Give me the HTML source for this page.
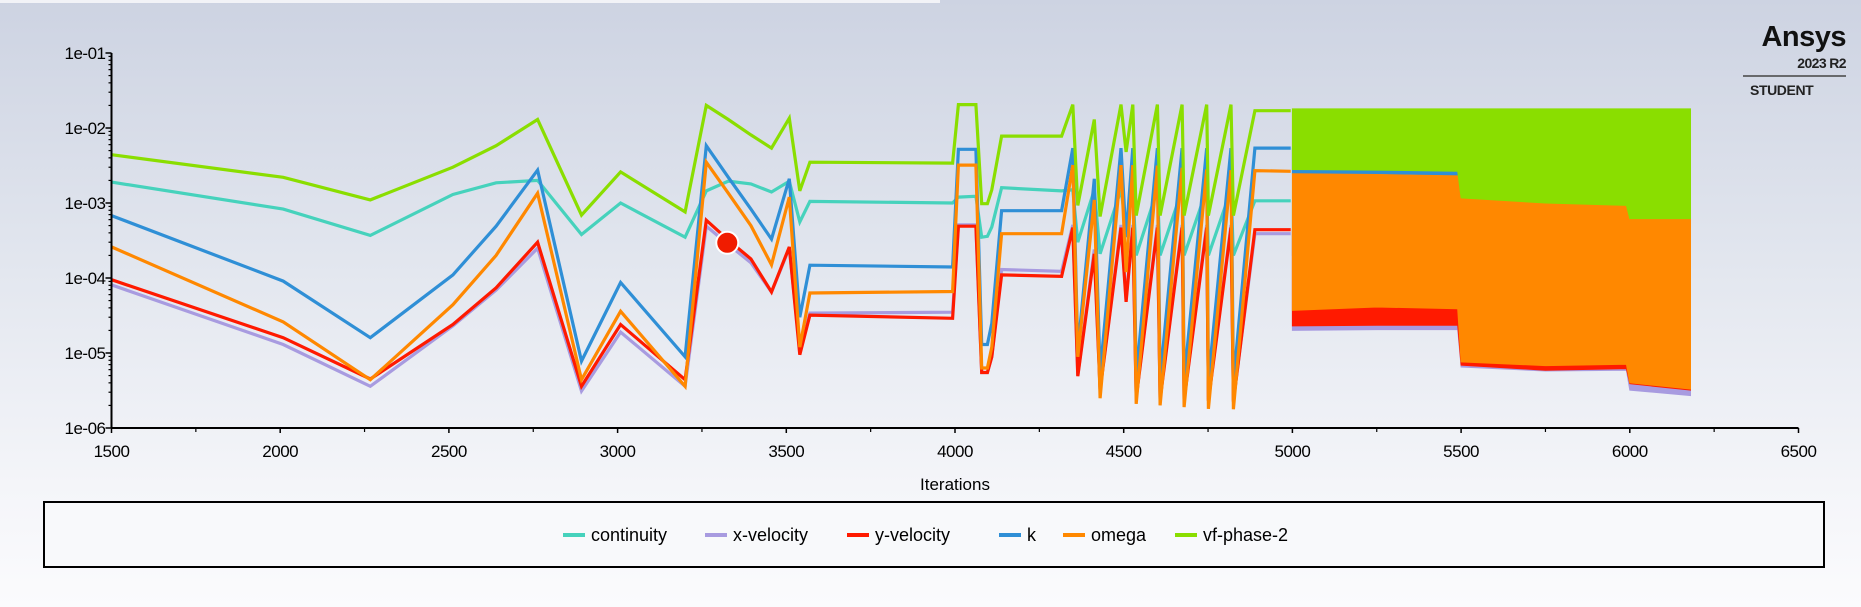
<!DOCTYPE html>
<html>
<head>
<meta charset="utf-8">
<style>
html,body{margin:0;padding:0;}
body{width:1861px;height:607px;overflow:hidden;background:linear-gradient(#cdd3e2 0%,#e3e7ef 45%,#f4f5f9 80%,#fbfbfd 100%);font-family:"Liberation Sans",sans-serif;}
svg{position:absolute;left:0;top:0;}
</style>
</head>
<body>
<svg id="chart" width="1861" height="607" viewBox="0 0 1861 607">
  <rect x="0" y="0" width="940" height="3" fill="#f2f3f7"/>
  <g id="plot"></g>
  <g id="axes"></g>
  <text x="955" y="490" font-size="17" text-anchor="middle" fill="#000">Iterations</text>
  <g>
    <rect x="44" y="502" width="1780" height="65" fill="#f8f9fb" stroke="#000" stroke-width="2"/>
    <g id="legend-items"></g>
  </g>
  <g>
    <text x="1846" y="46" font-size="29" font-weight="bold" text-anchor="end" fill="#111" letter-spacing="-0.5">Ansys</text>
    <text x="1846" y="68" font-size="14" font-weight="bold" text-anchor="end" fill="#222" letter-spacing="-0.6">2023 R2</text>
    <line x1="1743" y1="76" x2="1846" y2="76" stroke="#444" stroke-width="1.5"/>
    <text x="1750" y="95" font-size="14" font-weight="bold" fill="#222" letter-spacing="-0.4">STUDENT</text>
  </g>
</svg>
<script>
const iterations = [1500,2009,2267,2512,2640,2763,2893,3009,3200,3263,3328,3395,3456,3509,3540,3570,3993,4010,4062,4079,4096,4109,4138,4316,
  4349,4364,4413,4430,4492,4507,4527,4537,4600,4608,4673,4679,4746,4751,4818,4825,4889,4995];
const continuity = [1.9e-3,8.3e-4,3.7e-4,1.3e-3,1.86e-3,2.0e-3,3.8e-4,1.0e-3,3.5e-4,1.45e-3,1.95e-3,1.8e-3,1.4e-3,1.95e-3,5.6e-4,1.05e-3,1.0e-3,1.2e-3,1.23e-3,3.5e-4,3.6e-4,4.8e-4,1.6e-3,1.45e-3,
  1.5e-3,3.0e-4,1.5e-3,2.1e-4,1.5e-3,4.8e-4,1.5e-3,2.0e-4,1.5e-3,2.0e-4,1.5e-3,2.0e-4,1.5e-3,2.0e-4,1.5e-3,2.0e-4,1.07e-3,1.07e-3];
const xVelocity = [8.1e-5,1.3e-5,3.6e-6,2.3e-5,6.9e-5,2.5e-4,3.1e-6,1.9e-5,3.6e-6,4.9e-4,2.8e-4,1.6e-4,6.5e-5,2.5e-4,1.1e-5,3.4e-5,3.5e-5,5.1e-4,5.1e-4,5.5e-6,5.5e-6,8.9e-6,1.3e-4,1.23e-4,
  5.1e-4,5.0e-6,2.4e-4,3.3e-6,5.1e-4,5.2e-5,5.1e-4,2.6e-6,5.1e-4,2.5e-6,5.1e-4,2.45e-6,5.1e-4,2.4e-6,5.1e-4,2.35e-6,3.9e-4,3.9e-4];
const yVelocity = [9.5e-5,1.6e-5,4.5e-6,2.4e-5,7.4e-5,3.0e-4,3.6e-6,2.4e-5,4.4e-6,5.9e-4,3.2e-4,1.8e-4,6.5e-5,2.6e-4,9.5e-6,3.2e-5,2.9e-5,4.9e-4,4.9e-4,5.5e-6,5.5e-6,8.9e-6,1.1e-4,1.05e-4,
  4.7e-4,4.9e-6,2.1e-4,3.2e-6,4.7e-4,4.8e-5,4.7e-4,2.5e-6,4.7e-4,2.4e-6,4.7e-4,2.35e-6,4.7e-4,2.3e-6,4.7e-4,2.25e-6,4.4e-4,4.4e-4];
const kRes = [6.8e-4,9.1e-5,1.6e-5,1.1e-4,4.9e-4,2.75e-3,7.8e-6,8.7e-5,8.9e-6,5.8e-3,2.2e-3,8.3e-4,3.3e-4,2.1e-3,3.0e-5,1.48e-4,1.4e-4,5.2e-3,5.2e-3,1.3e-5,1.3e-5,2.5e-5,7.9e-4,7.9e-4,
  5.4e-3,1.1e-5,2.1e-3,5.4e-6,5.4e-3,3.5e-4,5.4e-3,4.8e-6,5.4e-3,4.5e-6,5.4e-3,4.3e-6,5.4e-3,4.2e-6,5.4e-3,4.0e-6,5.4e-3,5.4e-3];
const omega = [2.6e-4,2.6e-5,4.4e-6,4.4e-5,2.0e-4,1.35e-3,4.4e-6,3.6e-5,3.6e-6,3.5e-3,1.35e-3,5.0e-4,1.5e-4,1.2e-3,1.2e-5,6.3e-5,6.6e-5,3.2e-3,3.2e-3,6.3e-6,6.3e-6,1.2e-5,3.9e-4,3.9e-4,
  3.2e-3,8.9e-6,1.1e-3,2.5e-6,3.2e-3,1.2e-4,3.2e-3,2.1e-6,3.15e-3,2.0e-6,2.95e-3,1.9e-6,2.8e-3,1.8e-6,2.75e-3,1.78e-6,2.7e-3,2.65e-3];
const vfPhase2 = [4.4e-3,2.2e-3,1.1e-3,3.0e-3,5.8e-3,1.3e-2,6.9e-4,2.6e-3,7.6e-4,2.0e-2,1.3e-2,8.1e-3,5.4e-3,1.35e-2,1.45e-3,3.5e-3,3.4e-3,2.05e-2,2.05e-2,9.8e-4,9.8e-4,1.5e-3,7.8e-3,7.8e-3,
  2.05e-2,9.3e-4,1.3e-2,6.6e-4,2.05e-2,4.8e-3,2.05e-2,6.8e-4,2.05e-2,6.8e-4,2.05e-2,6.8e-4,2.05e-2,6.8e-4,2.05e-2,6.8e-4,1.7e-2,1.7e-2];

// dense oscillation region (5000-6180), drawn as max/min envelope bands
const bandIters = [5000,5250,5490,5500,5750,5990,6000,6180];
const continuityHigh = [1.07e-3,1.07e-3,1.07e-3,1.07e-3,1.07e-3,1.07e-3,1.07e-3,1.07e-3];
const continuityLow = [2.0e-4,2.0e-4,2.0e-4,2.0e-4,2.0e-4,2.0e-4,2.0e-4,2.0e-4];
const xVelocityHigh = [3.9e-4,3.9e-4,3.9e-4,3.9e-4,3.9e-4,3.9e-4,3.9e-4,3.9e-4];
const xVelocityLow = [2.0e-5,2.05e-5,2.05e-5,6.5e-6,5.75e-6,5.9e-6,3.2e-6,2.7e-6];
const yVelocityHigh = [4.4e-4,4.4e-4,4.4e-4,4.4e-4,4.4e-4,4.4e-4,4.4e-4,4.4e-4];
const yVelocityLow = [2.3e-5,2.35e-5,2.35e-5,6.9e-6,5.9e-6,6.2e-6,3.9e-6,3.2e-6];
const kHigh = [5.4e-3,5.4e-3,5.4e-3,5.4e-3,5.4e-3,5.4e-3,5.4e-3,5.4e-3];
const kLow = [2.5e-3,2.45e-3,2.35e-3,1.2e-3,1.02e-3,9.5e-4,6.4e-4,6.4e-4];
const omegaHigh = [2.45e-3,2.4e-3,2.3e-3,1.15e-3,1.0e-3,9.3e-4,6.2e-4,6.2e-4];
const omegaLow = [3.7e-5,4.1e-5,3.9e-5,7.6e-6,6.8e-6,7.1e-6,4.0e-6,3.3e-6];
const vfHigh = [1.8e-2,1.8e-2,1.8e-2,1.8e-2,1.8e-2,1.8e-2,1.8e-2,1.8e-2];
const vfLow = [2.8e-3,2.75e-3,2.65e-3,1.17e-3,1.0e-3,9.3e-4,6.2e-4,6.2e-4];

const xTicks = [1500,2000,2500,3000,3500,4000,4500,5000,5500,6000,6500];
const xTickLabels = ["1500","2000","2500","3000","3500","4000","4500","5000","5500","6000","6500"];
const yTicks = [-1,-2,-3,-4,-5,-6];
const yTickLabels = ["1e-01","1e-02","1e-03","1e-04","1e-05","1e-06"];
const markerPoint = [3325, 2.95e-4];

const NS = "http://www.w3.org/2000/svg";
const X0 = 111.5, PX_PER_IT = 0.3374, Y0 = 53, PX_PER_DEC = 75;
function xScale(i){ return X0 + (i - 1500) * PX_PER_IT; }
function yScale(v){ return Y0 + (-1 - Math.log10(v)) * PX_PER_DEC; }
function mk(tag, attrs, parent){ const e = document.createElementNS(NS, tag); for (const k in attrs) e.setAttribute(k, attrs[k]); parent.appendChild(e); return e; }

const plot = document.getElementById('plot');
const axes = document.getElementById('axes');
const series = [
  {name:'continuity', color:'#46d2bc', vals:continuity, hi:continuityHigh, lo:continuityLow},
  {name:'x-velocity', color:'#a89be0', vals:xVelocity, hi:xVelocityHigh, lo:xVelocityLow},
  {name:'y-velocity', color:'#ff1a00', vals:yVelocity, hi:yVelocityHigh, lo:yVelocityLow},
  {name:'k', color:'#2f8fd6', vals:kRes, hi:kHigh, lo:kLow},
  {name:'omega', color:'#ff8800', vals:omega, hi:omegaHigh, lo:omegaLow},
  {name:'vf-phase-2', color:'#8ade00', vals:vfPhase2, hi:vfHigh, lo:vfLow}
];

series.forEach(s => {
  const pts = iterations.map((it, i) => xScale(it).toFixed(1) + ',' + yScale(s.vals[i]).toFixed(1)).join(' ');
  const line = mk('polyline', {points: pts, fill: 'none', stroke: s.color, 'stroke-width': 3.2, 'stroke-linejoin': 'miter', 'stroke-miterlimit': 4}, plot);
  
  
  const top = bandIters.map((it, i) => xScale(it).toFixed(1) + ',' + yScale(s.hi[i]).toFixed(1));
  const bot = bandIters.map((it, i) => xScale(it).toFixed(1) + ',' + yScale(s.lo[i]).toFixed(1)).reverse();
  const band = mk('polygon', {points: top.concat(bot).join(' '), fill: s.color, stroke: s.color, 'stroke-width': 1}, plot);
  
  
});

const mkr = mk('circle', {cx: xScale(markerPoint[0]), cy: yScale(markerPoint[1]), r: 11, fill: '#f01c00', stroke: '#fff', 'stroke-width': 2}, plot);



const yBottom = Y0 + 5 * PX_PER_DEC;
const yAxis = mk('line', {x1: X0, y1: Y0, x2: X0, y2: yBottom, stroke: '#000', 'stroke-width': 2}, axes);


const xAxis = mk('line', {x1: X0, y1: yBottom, x2: xScale(6500), y2: yBottom, stroke: '#000', 'stroke-width': 2}, axes);



yTicks.forEach((d, i) => {
  const y = yScale(Math.pow(10, d));
  const t = mk('line', {x1: X0 - 6, y1: y, x2: X0, y2: y, stroke: '#000', 'stroke-width': 1.5}, axes);
  
  
  const lb = mk('text', {x: X0 - 6, y: y + 6, 'font-size': 17, 'text-anchor': 'end', fill: '#000', 'letter-spacing': '-0.5'}, axes);
  lb.textContent = yTickLabels[i];
  
  
  if (d > -6) {
    for (let m = 2; m <= 9; m++) {
      const ym = yScale(m * Math.pow(10, d - 1));
      const mt = mk('line', {x1: X0 - 3, y1: ym, x2: X0, y2: ym, stroke: '#000', 'stroke-width': 1.2}, axes);
      
      
    }
  }
});
xTicks.forEach((v, i) => {
  const x = xScale(v);
  const t = mk('line', {x1: x, y1: yBottom, x2: x, y2: yBottom + 5, stroke: '#000', 'stroke-width': 1.5}, axes);
  
  
  const lb = mk('text', {x: x, y: yBottom + 29, 'font-size': 17, 'text-anchor': 'middle', fill: '#000', 'letter-spacing': '-0.5'}, axes);
  lb.textContent = xTickLabels[i];
  
  
  if (i < xTicks.length - 1) {
    const xm = xScale(v + 250);
    const mt = mk('line', {x1: xm, y1: yBottom, x2: xm, y2: yBottom + 4, stroke: '#000', 'stroke-width': 1.2}, axes);
    
    
  }
});

const legendItems = document.getElementById('legend-items');
const widths = [100, 100, 110, 22, 70, 110];
let total = 0; widths.forEach(w => total += 28 + w + 14);
let lx = 945 - total / 2;
series.forEach((s, i) => {
  const g = mk('g', {}, legendItems);
  
  
  mk('line', {x1: lx, y1: 535, x2: lx + 22, y2: 535, stroke: s.color, 'stroke-width': 4}, g);
  const tx = mk('text', {x: lx + 28, y: 541, 'font-size': 18, fill: '#000'}, g);
  tx.textContent = s.name;
  lx += 28 + widths[i] + 14;
});
</script>
</body>
</html>
